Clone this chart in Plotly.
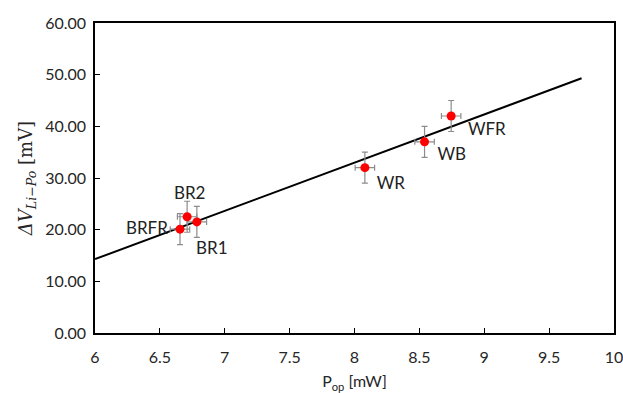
import plotly.graph_objects as go

labels = ["BRFR", "BR2", "BR1", "WR", "WB", "WFR"]
p_op = [6.655, 6.71, 6.785, 8.08, 8.54, 8.745]
dv = [20.1, 22.5, 21.5, 32.0, 37.0, 42.0]
x_err = [0.075, 0.075, 0.075, 0.075, 0.075, 0.075]
y_err = [3.0, 3.0, 3.0, 3.0, 3.0, 3.0]

fit_x = [6.0, 9.75]
fit_y = [14.3, 49.3]

# label positions (data units)
lab_x = [6.4, 6.73, 6.9, 8.28, 8.75, 9.02]
lab_y = [20.0, 26.8, 16.2, 28.6, 34.3, 39.2]

font = "Lato, 'Open Sans', sans-serif"

fig = go.Figure()
fig.add_trace(go.Scatter(x=fit_x, y=fit_y, mode="lines",
                         line=dict(color="black", width=2), showlegend=False))
fig.add_trace(go.Scatter(
    x=p_op, y=dv, mode="markers",
    marker=dict(color="red", size=9),
    error_x=dict(type="data", array=x_err, color="#8c8c8c", thickness=1.2, width=3),
    error_y=dict(type="data", array=y_err, color="#8c8c8c", thickness=1.2, width=3),
    showlegend=False))
fig.add_trace(go.Scatter(x=lab_x, y=lab_y, mode="text", text=labels,
                         textfont=dict(family=font, size=17, color="#222"),
                         showlegend=False))

fig.update_layout(
    width=623, height=393,
    margin=dict(l=95, r=9, t=23, b=60),
    paper_bgcolor="white", plot_bgcolor="white",
    font=dict(family=font, size=16, color="#262626"),
    xaxis=dict(range=[6, 10], tickvals=[6, 6.5, 7, 7.5, 8, 8.5, 9, 9.5, 10],
               ticktext=["6", "6.5", "7", "7.5", "8", "8.5", "9", "9.5", "10"],
               ticks="inside", ticklen=5, tickcolor="black",
               ticklabelstandoff=9, automargin=False, ticklabeloverflow="allow",
               showline=True, linecolor="black", linewidth=1.5, mirror=True,
               showgrid=False, zeroline=False,
               title=dict(text="P<sub>op</sub> [mW]", font=dict(size=16), standoff=11)),
    yaxis=dict(range=[0, 60], tickvals=[0, 10, 20, 30, 40, 50, 60],
               tickformat=".2f",
               ticks="inside", ticklen=5, tickcolor="black",
               ticklabelstandoff=4, automargin=False,
               showline=True, linecolor="black", linewidth=1.5, mirror=True,
               showgrid=False, zeroline=False,
               title=dict(text="<i>ΔV<sub>Li−Po</sub></i> [mV]",
                          font=dict(family="'DejaVu Serif', serif", size=18), standoff=8)),
)

fig.write_html("out.html")
